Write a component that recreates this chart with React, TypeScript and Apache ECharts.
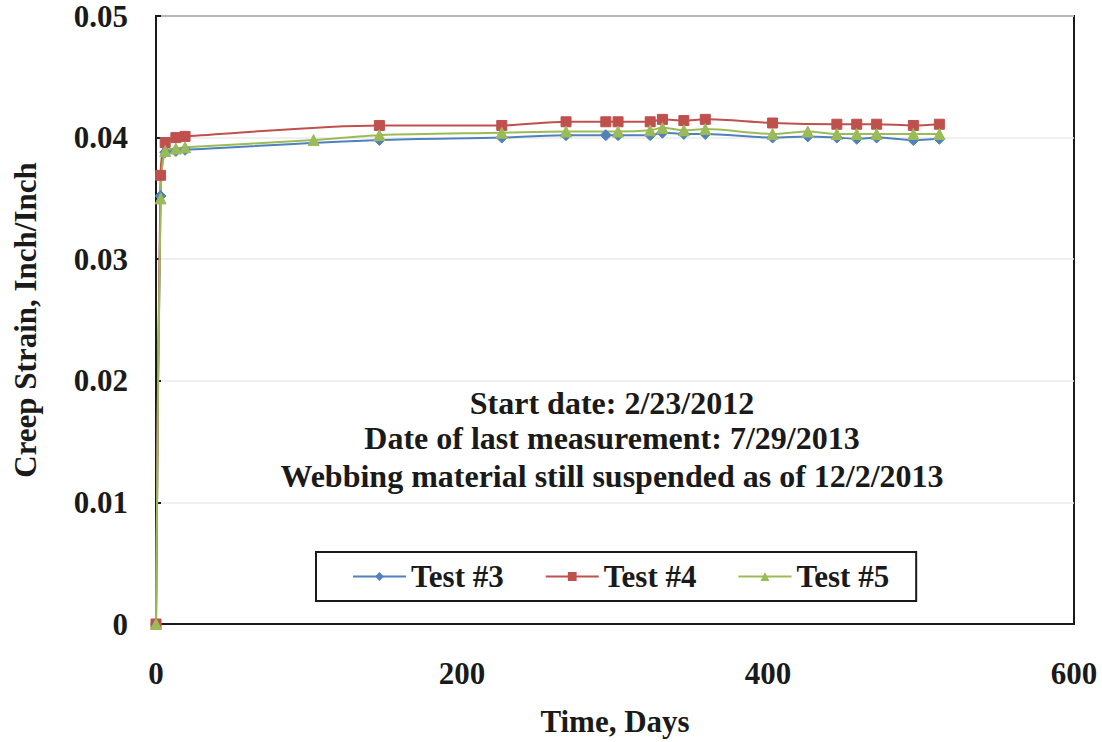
import React, { useEffect, useRef } from "react";
import * as echarts from "echarts";

const daysTest3 = [0, 3, 6, 13, 19, 146, 226, 268, 294, 302, 323, 331, 345, 359, 403, 426, 445, 458, 471, 495, 512];
const strainTest3 = [0, 0.0352, 0.0388, 0.0389, 0.039, 0.0398, 0.04, 0.0402, 0.0402, 0.0402, 0.0402, 0.0404, 0.0403, 0.0403, 0.04, 0.0401, 0.04, 0.0399, 0.04, 0.0398, 0.0399];

const daysTest4 = [0, 3, 6, 13, 19, 146, 226, 268, 294, 302, 323, 331, 345, 359, 403, 445, 458, 471, 495, 512];
const strainTest4 = [0, 0.0369, 0.0396, 0.04, 0.0401, 0.041, 0.041, 0.0413, 0.0413, 0.0413, 0.0413, 0.0415, 0.0414, 0.0415, 0.0412, 0.0411, 0.0411, 0.0411, 0.041, 0.0411];

const daysTest5 = [0, 3, 6, 13, 19, 103, 146, 226, 268, 302, 323, 331, 345, 359, 403, 426, 445, 458, 471, 495, 512];
const strainTest5 = [0, 0.035, 0.0389, 0.0391, 0.0392, 0.0398, 0.0402, 0.0404, 0.0405, 0.0405, 0.0406, 0.0408, 0.0406, 0.0407, 0.0403, 0.0405, 0.0403, 0.0403, 0.0403, 0.0403, 0.0403];

const seriesNames = ["Test #3", "Test #4", "Test #5"];
const notes = ["Start date: 2/23/2012", "Date of last measurement: 7/29/2013", "Webbing material still suspended as of 12/2/2013"];

const FONT = '"Liberation Serif", "Times New Roman", serif';
const INK = "#1a1a1a";

function pairs(xs: number[], ys: number[]) {
  return xs.map((x, i) => [x, ys[i]]);
}

export default function App() {
  const ref = useRef<HTMLDivElement>(null);
  useEffect(() => {
    document.body.style.margin = "0";
    const chart = echarts.init(ref.current!, undefined, { renderer: "svg" });
    const mk = (name: string, data: number[][], color: string, symbol: string, size: number) => ({
      name,
      type: "line",
      data,
      smooth: 0.3,
      symbol,
      symbolSize: size,
      showAllSymbol: true,
      lineStyle: { color, width: 2 },
      itemStyle: { color, borderColor: color },
    });
    const lineY = [403, 438, 476];
    chart.setOption({
      animation: false,
      backgroundColor: "#ffffff",
      grid: { left: 156, top: 16, right: 28, bottom: 117, show: true, borderColor: INK, borderWidth: 2, backgroundColor: "transparent" },
      xAxis: {
        type: "value",
        min: 0,
        max: 600,
        interval: 200,
        name: "Time, Days",
        nameLocation: "middle",
        nameGap: 82,
        nameTextStyle: { fontFamily: FONT, fontWeight: "bold", fontSize: 31, color: INK },
        axisLine: { lineStyle: { color: INK, width: 2 } },
        axisTick: { show: false },
        splitLine: { show: false },
        axisLabel: { fontFamily: FONT, fontWeight: "bold", fontSize: 31, color: INK, margin: 34 },
      },
      yAxis: {
        type: "value",
        min: 0,
        max: 0.05,
        interval: 0.01,
        name: "Creep Strain, Inch/Inch",
        nameLocation: "middle",
        nameGap: 115,
        nameRotate: 90,
        nameTextStyle: { fontFamily: FONT, fontWeight: "bold", fontSize: 31, color: INK },
        axisLine: { lineStyle: { color: INK, width: 2 } },
        axisTick: { show: true, inside: true, length: 5, lineStyle: { color: INK, width: 2 } },
        splitLine: { show: true, lineStyle: { color: "#ebebeb", width: 1.5 } },
        axisLabel: {
          fontFamily: FONT,
          fontWeight: "bold",
          fontSize: 31,
          color: INK,
          margin: 28,
          formatter: (v: number) => (v === 0 ? "0" : v.toFixed(2)),
        },
      },
      legend: {
        left: 316,
        top: 552,
        orient: "horizontal",
        data: seriesNames,
        borderColor: INK,
        borderWidth: 2,
        padding: [9, 27, 9, 36],
        itemGap: 41,
        itemWidth: 53,
        itemHeight: 11,
        textStyle: { fontFamily: FONT, fontWeight: "bold", fontSize: 31, color: INK },
      },
      graphic: notes.map((t, i) => ({
        type: "text",
        style: {
          text: t,
          x: 612,
          y: lineY[i],
          textAlign: "center",
          textVerticalAlign: "middle",
          fontFamily: FONT,
          fontWeight: "bold",
          fontSize: 32,
          fill: INK,
        },
      })),
      series: [
        mk(seriesNames[0], pairs(daysTest3, strainTest3), "#4F81BD", "diamond", 11),
        mk(seriesNames[1], pairs(daysTest4, strainTest4), "#C0504D", "rect", 10),
        mk(seriesNames[2], pairs(daysTest5, strainTest5), "#9BBB59", "triangle", 11),
      ],
    });
    return () => chart.dispose();
  }, []);
  return <div ref={ref} style={{ width: 1102, height: 742 }} />;
}
